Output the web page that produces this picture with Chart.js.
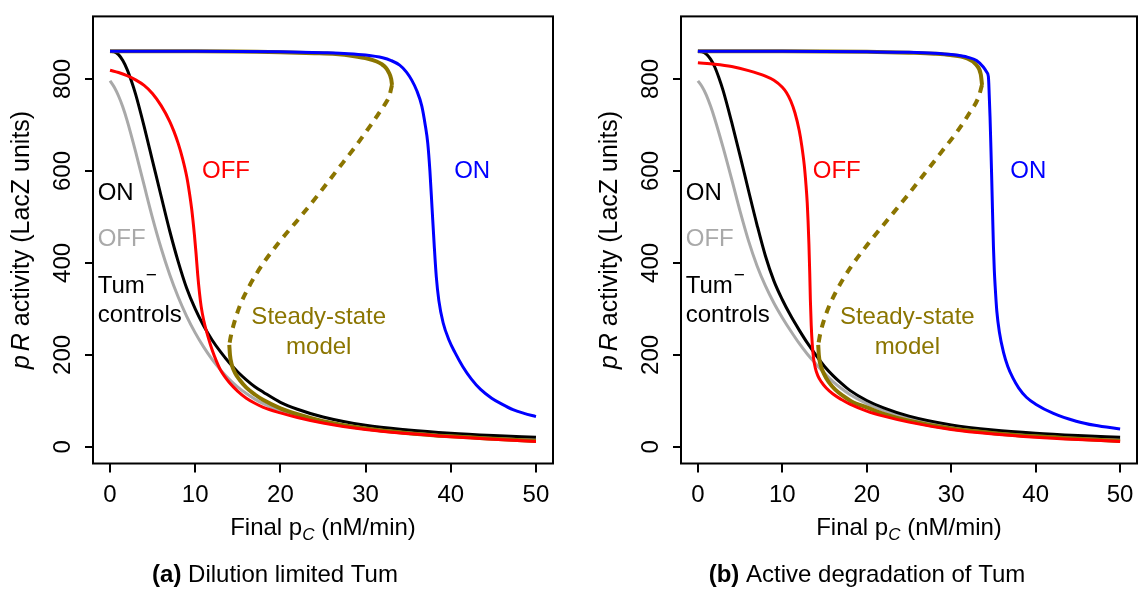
<!DOCTYPE html>
<html><head><meta charset="utf-8">
<script src="https://cdn.jsdelivr.net/npm/chart.js@4.4.1/dist/chart.umd.min.js"></script>
<style>
html,body{margin:0;padding:0;background:#fff;}
#wrap{position:relative;width:1147px;height:594px;overflow:hidden;}
.pane{position:absolute;top:0;height:594px;}
canvas{display:block;}
</style></head><body>
<div id="wrap">
<div class="pane" style="left:0;width:573px"><canvas id="ca" width="573" height="594"></canvas></div>
<div class="pane" style="left:573px;width:574px"><canvas id="cb" width="574" height="594"></canvas></div>
</div>
<script>
// ---------- data ----------
const xTicks = [0, 10, 20, 30, 40, 50];
const yTicks = [0, 200, 400, 600, 800];

// (a) Dilution limited Tum
const aBlack = [[0,860],[0.5,859],[1,853],[1.5,840],[2,821],[2.5,796],[3,767],[4,697],[5,621],[6,545],[7,470],[8,403],[9,345],[10,300],[11,263],[12,232],[13,206],[14,183],[15,163],[16,146],[17,131],[18,119],[20,97],[22,82],[25,65],[30,47],[35,37],[40,30],[45,25],[50,21]];
const aGray  = [[0,796],[0.5,782],[1,763],[1.5,739],[2,710],[3,642],[4,569],[5,497],[6,432],[7,375],[8,326],[9,284],[10,248],[11,217],[12,190],[13,167],[14,147],[15,130],[16,116],[17,104],[18,94],[20,78],[22,66],[25,53],[30,39],[35,30],[40,24],[45,19],[50,15]];
const aRed   = [[0,819],[1,814],[2,807],[3,798],[4,786],[5,768],[6,742],[7,708],[7.5,686],[8,660],[8.5,628],[9,588],[9.3,555],[9.6,515],[9.9,462],[10.1,420],[10.3,373],[10.5,335],[10.7,305],[11,275],[11.5,240],[12,210],[12.5,186],[13,166],[14,140],[15,121],[16,106],[17,95],[18,86],[20,74],[22,64],[25,52],[30,38],[35,29],[40,22],[45,16.5],[50,12]];
const aOliveUp  = [[0,860],[10,860],[20,858],[24,856],[26.5,854],[28.5,850],[30.3,844],[31.3,838],[31.9,832],[32.4,824],[32.7,815],[33.0,800],[33.1,787]];
const aOliveMid = [[33.1,787],[32.8,764],[32.2,743],[31.4,721],[30.7,702],[28.8,653],[26.5,598],[24.5,550],[22.2,497],[19.8,444],[17.9,397],[16.3,348],[15.2,305],[14.5,265],[14.15,238],[14.0,222]];
const aOliveLow = [[14.0,222],[14.08,200],[14.3,178],[14.7,160],[15.2,146],[16,129],[17,114],[18,102],[20,84],[22,71],[25,56],[30,40],[35,30],[40,23],[45,18],[50,13]];
const aBlue  = [[0,860],[10,860],[20,859],[25,857],[28,855],[30,852],[32,846],[33,840],[34,830],[34.8,815],[35.4,798],[36,775],[36.6,741],[37,700],[37.3,660],[37.55,600],[37.8,520],[38.05,440],[38.3,370],[38.6,318],[39.1,270],[39.8,232],[40.5,205],[41.4,175],[42.4,148],[43.5,125],[44.8,106],[46,93],[47.3,81],[48.6,73],[50,66]];

// (b) Active degradation of Tum
const bBlack = [[0,860],[0.5,859],[1,854],[1.5,843],[2,826],[2.5,802],[3,774],[4,706],[5,633],[6,557],[7,483],[8,415],[9,361],[10,320],[11,285],[12,254],[13,225],[14,199],[15,175],[16,155],[17,138],[18,123],[20,101],[22,85],[25,67],[30,48],[35,37],[40,30],[45,25],[50,21]];
const bGray  = [[0,796],[0.5,783],[1,765],[1.5,741],[2,713],[3,650],[4,582],[5,512],[6,448],[7,394],[8,350],[9,313],[10,281],[11,252],[12,225],[13,201],[14,180],[15,160],[16,142],[17,127],[18,114],[20,94],[22,79],[25,62],[30,45],[35,34],[40,26],[45,20],[50,16]];
const bRed   = [[0,835],[2,832],[4,827],[6,818],[8,806],[9,797],[10,782],[10.5,770],[11,752],[11.5,726],[12,688],[12.3,655],[12.6,612],[12.8,570],[12.95,530],[13.05,490],[13.15,440],[13.25,375],[13.32,320],[13.42,265],[13.55,222],[13.7,192],[13.9,172],[14.2,155],[14.6,142],[15.2,128],[16,115],[17,103],[18,93],[20,78],[22,67],[25,54],[30,38],[35,28],[40,21],[45,16],[50,12]];
const bOliveUp  = [[0,860],[10,860],[20,859],[25,857],[28,855],[29.9,852],[31.8,845],[33.0,830],[33.5,810],[33.65,787]];
const bOliveMid = [[33.65,787],[33.2,759],[32.2,727],[30.6,683],[29.0,645],[27.1,600],[24.7,544],[22.3,490],[20.0,438],[18.0,388],[16.4,339],[15.2,290],[14.5,247],[14.25,222]];
const bOliveLow = [[14.25,222],[14.32,200],[14.5,180],[14.9,160],[15.5,141],[16.3,124],[17.2,111],[18.2,99],[20,86],[22,72],[25,57],[30,40],[35,30],[40,23],[45,18],[50,13]];
const bBlue  = [[0,860],[10,860],[20,859],[25,858],[28,856],[30,853],[32,847],[33,840],[33.8,826],[34.2,815],[34.4,805],[34.45,790],[34.5,765],[34.6,715],[34.7,650],[34.8,580],[34.9,505],[35.0,435],[35.1,385],[35.2,350],[35.4,295],[35.7,250],[36.2,205],[36.7,175],[37.3,150],[38,128],[38.9,108],[40,93],[42.1,73],[44.8,56],[47,47],[50,39]];

// ---------- styling ----------
const FF = '"Liberation Sans", Arial, Helvetica, sans-serif';
const C = {black:'#000000', gray:'#A9A9A9', red:'#FF0000', blue:'#0000FF', olive:'#8B7500'};
const toXY = arr => arr.map(p => ({x:p[0], y:p[1]}));

function ds(data, color, width, order, dash) {
  return {data: toXY(data), borderColor: color, borderWidth: width, pointRadius: 0,
    fill: false, order: order, cubicInterpolationMode: 'monotone',
    borderDash: dash || [], borderCapStyle: 'butt', borderJoinStyle: 'round'};
}

function drawRich(ctx, segs, x, y, align) {
  let w = 0;
  segs.forEach(s => { ctx.font = s.font; w += ctx.measureText(s.t).width + (s.gap || 0); });
  let cx = align === 'center' ? x - w/2 : (align === 'right' ? x - w : x);
  segs.forEach(s => {
    ctx.font = s.font; ctx.fillStyle = s.color || '#000';
    ctx.textAlign = 'left'; ctx.textBaseline = s.base || 'alphabetic';
    ctx.fillText(s.t, cx, y + (s.dy || 0));
    cx += ctx.measureText(s.t).width + (s.gap || 0);
  });
}

const decor = {
  id: 'decor',
  afterDatasetsDraw(chart) {
    const o = chart.options.plugins.decor;
    const ctx = chart.ctx, a = chart.chartArea, sx = chart.scales.x, sy = chart.scales.y;
    ctx.save();
    ctx.strokeStyle = '#000'; ctx.lineWidth = 2;
    ctx.strokeRect(a.left, a.top, a.right - a.left, a.bottom - a.top);
    const F = '24px ' + FF;
    o.notes.forEach(n => {
      const px = sx.getPixelForValue(n.x), py = sy.getPixelForValue(n.y);
      ctx.font = F; ctx.fillStyle = n.color; ctx.textBaseline = 'middle';
      ctx.textAlign = n.align || 'left';
      ctx.fillText(n.t, px, py);
      if (n.sup) {
        const w = ctx.measureText(n.t).width;
        ctx.font = '19px ' + FF; ctx.textAlign = 'left';
        ctx.fillText(n.sup, px + w + 1, py - 10);
      }
    });
    ctx.save();
    ctx.translate(a.left - 70.5, (a.top + a.bottom) / 2);
    ctx.rotate(-Math.PI / 2);
    drawRich(ctx, [
      {t:'p', font:'italic 25px ' + FF, gap: 4, base:'middle'},
      {t:'R', font:'italic 25px ' + FF, base:'middle'},
      {t:' activity (LacZ units)', font:'25px ' + FF, base:'middle'}
    ], 0, 0, 'center');
    ctx.restore();
    const cxm = (a.left + a.right) / 2;
    drawRich(ctx, [
      {t:'Final p', font:'24px ' + FF},
      {t:'C', font:'italic 17px ' + FF, dy: 5},
      {t:' (nM/min)', font:'24px ' + FF}
    ], cxm, 535, 'center');
    drawRich(ctx, [
      {t:o.capTag, font:'bold 24px ' + FF},
      {t:o.capText, font:'24px ' + FF}
    ], cxm - o.capShift, 582, 'center');
    ctx.restore();
  }
};

function makeChart(id, W, left, right, sets, notes, capTag, capText, capShift) {
  return new Chart(document.getElementById(id), {
    type: 'line',
    data: {datasets: sets},
    plugins: [decor],
    options: {
      responsive: false, animation: false, devicePixelRatio: 1,
      layout: {padding: {left: 0, right: W - right, top: 5, bottom: 594 - 463.5 - 40}},
      plugins: {legend: {display: false}, tooltip: {enabled: false},
        decor: {notes: notes, capTag: capTag, capText: capText, capShift: capShift}},
      scales: {
        x: {type: 'linear', min: -2, max: 52,
          afterBuildTicks: s => { s.ticks = xTicks.map(v => ({value: v})); },
          afterFit: s => { s.height = 40; },
          grid: {drawOnChartArea: false, drawTicks: true, tickLength: 9, color: '#000', lineWidth: 2},
          border: {display: false},
          ticks: {font: {family: FF, size: 24}, color: '#000', padding: 8, maxRotation: 0, autoSkip: false}},
        y: {type: 'linear', min: -36, max: 936,
          afterBuildTicks: s => { s.ticks = yTicks.map(v => ({value: v})); },
          afterFit: s => { s.width = left; },
          grid: {drawOnChartArea: false, drawTicks: true, tickLength: 8, color: '#000', lineWidth: 2},
          border: {display: false},
          ticks: {font: {family: FF, size: 24}, color: '#000', padding: 2, minRotation: 90, maxRotation: 90,
            crossAlign: 'center', autoSkip: false}}
      }
    }
  });
}

function notesFor(offX, redX, blueX, ssX) {
  return [
    {t:'ON', x: offX, y: 551, color: C.black},
    {t:'OFF', x: offX, y: 451, color: C.gray},
    {t:'Tum', sup:'\u2212', x: offX, y: 349.5, color: C.black},
    {t:'controls', x: offX, y: 287, color: C.black},
    {t:'OFF', x: redX, y: 599, color: C.red},
    {t:'ON', x: blueX, y: 599, color: C.blue},
    {t:'Steady-state', x: ssX, y: 282, color: C.olive, align:'center'},
    {t:'model', x: ssX, y: 217, color: C.olive, align:'center'}
  ];
}

const dashPat = [8, 7];
makeChart('ca', 573, 93, 553, [
  ds(aBlue, C.blue, 3, 1),
  ds(aRed, C.red, 3, 2),
  ds(aOliveUp, C.olive, 4, 3),
  ds(aOliveMid, C.olive, 4, 3, dashPat),
  ds(aOliveLow, C.olive, 4, 3),
  ds(aBlack, C.black, 3, 5),
  ds(aGray, C.gray, 3, 6)
], notesFor(-1.45, 10.8, 40.4, 24.5), '(a)', ' Dilution limited Tum', 48);

makeChart('cb', 574, 108, 564, [
  ds(bBlue, C.blue, 3, 1),
  ds(bRed, C.red, 3, 2),
  ds(bOliveUp, C.olive, 4, 3),
  ds(bOliveMid, C.olive, 4, 3, dashPat),
  ds(bOliveLow, C.olive, 4, 3),
  ds(bBlack, C.black, 3, 5),
  ds(bGray, C.gray, 3, 6)
], notesFor(-1.44, 13.6, 37.0, 24.8), '(b)', ' Active degradation of Tum', 42);
</script>
</body></html>
